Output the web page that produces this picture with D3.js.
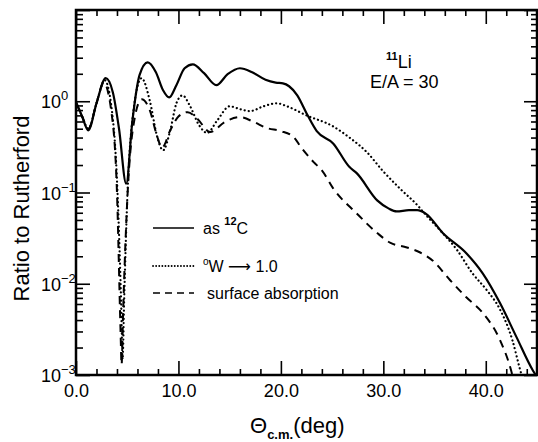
<!DOCTYPE html>
<html>
<head>
<meta charset="utf-8">
<script src="https://cdn.jsdelivr.net/npm/d3@7"></script>
<style>
  html, body { margin: 0; padding: 0; background: #fff; }
  svg { display: block; font-family: "Liberation Sans", Arial, sans-serif; }
</style>
</head>
<body>
<div id="chart"></div>
<script>
// --- DATA ---
const xTickValues = [0, 10, 20, 30, 40];
const xTickLabels = ['0.0', '10.0', '20.0', '30.0', '40.0'];
const yTickExps   = [-3, -2, -1, 0];

// as 12C (solid)
const solidTheta = [0, 0.6, 1.2, 2.0, 2.9, 3.6, 4.2, 4.9, 5.5, 6.2, 7.0, 7.8, 8.5, 9.1, 9.8, 10.6, 11.4,
  12.5, 13.7, 14.8, 16.0, 17.2, 18.5, 19.5, 20.2, 20.8, 21.6, 22.5, 23.5, 25.1, 26.7, 27.4, 29.4, 30.5,
  31.3, 32.5, 33.3, 34.2, 35.8, 38.1, 39.7, 41.4, 43.0, 44.6, 45.0];
const solidRatio = [0.98, 0.68, 0.48, 0.95, 1.79, 1.25, 0.5, 0.125, 0.6, 1.93, 2.67, 2.08, 1.32, 1.1, 1.5, 2.3, 2.54,
  2.03, 1.5, 1.98, 2.3, 2.08, 1.72, 1.6, 1.57, 1.46, 1.16, 0.74, 0.47, 0.345, 0.19, 0.163, 0.082, 0.067,
  0.062, 0.064, 0.064, 0.058, 0.036, 0.0216, 0.013, 0.0061, 0.0026, 0.00112, 0.00095];

// W -> 1.0 (dotted)
const dotTheta = [0, 0.6, 1.2, 2.0, 2.8, 3.5, 4.0, 4.4, 4.55, 4.7, 5.0, 5.5, 6.4, 7.2, 7.9, 8.5, 9.2, 9.8, 10.4,
  11.1, 12.0, 12.8, 13.8, 15.0, 16.0, 17.0, 18.3, 19.6, 20.6, 22.5, 25.1, 26.7, 28.4, 29.9, 31.6, 33.3,
  34.2, 35.5, 37.2, 38.7, 40.1, 41.4, 42.6, 43.3, 43.6];
const dotRatio = [0.98, 0.68, 0.5, 0.95, 1.7, 0.8, 0.137, 0.0066, 0.0015, 0.0066, 0.082, 0.62, 1.79, 1.02, 0.42, 0.29, 0.48, 0.95, 1.16,
  0.9, 0.55, 0.45, 0.62, 0.88, 0.82, 0.78, 0.88, 0.95, 0.88, 0.7, 0.53, 0.4, 0.276, 0.175, 0.111, 0.073,
  0.056, 0.039, 0.0234, 0.013, 0.0085, 0.0052, 0.0024, 0.0012, 0.0009];

// surface absorption (dashed)
const dashTheta = [0, 0.6, 1.2, 2.0, 2.7, 3.5, 4.0, 4.35, 4.45, 4.6, 5.0, 5.5, 6.4, 7.2, 7.9, 8.4, 9.2, 10.0, 10.9,
  11.8, 13.1, 14.5, 16.0, 17.4, 18.6, 20.0, 21.2, 22.0, 23.2, 24.0, 25.1, 27.4, 29.4, 30.7, 32.3, 33.6,
  34.8, 36.5, 38.1, 39.7, 41.4, 42.4, 42.7];
const dashRatio = [0.98, 0.68, 0.5, 0.95, 1.6, 0.7, 0.1, 0.003, 0.0013, 0.005, 0.08, 0.45, 1.05, 0.8, 0.42, 0.31, 0.48, 0.68, 0.76,
  0.65, 0.46, 0.59, 0.67, 0.59, 0.51, 0.47, 0.41, 0.31, 0.215, 0.175, 0.111, 0.059, 0.036, 0.028, 0.025, 0.022,
  0.018, 0.011, 0.0071, 0.0048, 0.0024, 0.0012, 0.0009];

const legendLabels = ['as', 'W', '1.0', 'surface absorption'];

// --- SETUP ---
const width = 538, height = 442;
const plot = { left: 76, right: 537, top: 10, bottom: 375 };

const svg = d3.select('#chart').append('svg')
  .attr('width', width)
  .attr('height', height);

const x = d3.scaleLinear().domain([0, 45]).range([plot.left, plot.right]);
const y = d3.scaleLog().domain([1e-3, 1e1]).range([plot.bottom, plot.top]);

const xMinor = d3.range(0, 46, 2).filter(d => d % 10 !== 0);
const yMajor = [1e-3, 1e-2, 1e-1, 1e0, 1e1];
const yMinor = [];
for (let e = -3; e < 1; e++) for (let k = 2; k <= 9; k++) yMinor.push(k * Math.pow(10, e));

// --- AXES (ticks point inward on all four sides) ---
function tickGroup(axis, tx, ty) {
  const g = svg.append('g').attr('transform', `translate(${tx},${ty})`).call(axis);
  g.select('.domain').remove();
  g.selectAll('line').attr('stroke', '#000').attr('stroke-width', 1.6);
  return g;
}

// bottom
const gxb = tickGroup(d3.axisBottom(x).tickValues(xTickValues).tickSize(-14).tickPadding(9)
  .tickFormat((d, i) => xTickLabels[i]), 0, plot.bottom);
gxb.selectAll('text').attr('font-size', 18).attr('fill', '#000')
  .attr('font-family', '"Liberation Sans", Arial, sans-serif');
tickGroup(d3.axisBottom(x).tickValues(xMinor).tickSize(-6).tickFormat(''), 0, plot.bottom);
// top
tickGroup(d3.axisTop(x).tickValues(xTickValues).tickSize(-14).tickFormat(''), 0, plot.top);
tickGroup(d3.axisTop(x).tickValues(xMinor).tickSize(-6).tickFormat(''), 0, plot.top);
// left
tickGroup(d3.axisLeft(y).tickValues(yMajor).tickSize(-14).tickFormat(''), plot.left, 0);
tickGroup(d3.axisLeft(y).tickValues(yMinor).tickSize(-7).tickFormat(''), plot.left, 0);
// right
tickGroup(d3.axisRight(y).tickValues(yMajor).tickSize(-13).tickFormat(''), plot.right, 0);
tickGroup(d3.axisRight(y).tickValues(yMinor).tickSize(-6).tickFormat(''), plot.right, 0);

// frame
svg.append('rect')
  .attr('x', plot.left).attr('y', plot.top)
  .attr('width', plot.right - plot.left).attr('height', plot.bottom - plot.top)
  .attr('fill', 'none').attr('stroke', '#000').attr('stroke-width', 2.5);

// y tick labels 10^n
const yl = svg.selectAll('text.ylab').data(yTickExps).enter().append('text')
  .attr('class', 'ylab')
  .attr('x', 41)
  .attr('y', d => y(Math.pow(10, d)) + 7)
  .attr('font-size', 18);
yl.append('tspan').text('10');
yl.append('tspan').attr('dy', -8).attr('font-size', 13).text(d => d === 0 ? '0' : '\u2212' + (-d));

// axis titles
svg.append('text')
  .attr('transform', `translate(29,${(plot.top + plot.bottom) / 2 + 16}) rotate(-90)`)
  .attr('text-anchor', 'middle')
  .attr('font-size', 22)
  .text('Ratio to Rutherford');

const xt = svg.append('text')
  .attr('x', 250).attr('y', 433)
  .attr('font-size', 22);
xt.append('tspan').text('\u0398');
xt.append('tspan').attr('dy', 6).attr('font-size', 13).attr('font-weight', 'bold').text('c.m.');
xt.append('tspan').attr('dy', -6).text('(deg)');

// annotation
const ann = svg.append('text').attr('x', 386).attr('y', 68).attr('font-size', 18);
ann.append('tspan').attr('dy', -8).attr('font-size', 11).attr('font-weight', 'bold').text('11');
ann.append('tspan').attr('dy', 8).text('Li');
svg.append('text').attr('x', 370).attr('y', 88).attr('font-size', 18).text('E/A = 30');

// --- CURVES ---
svg.append('clipPath').attr('id', 'clip').append('rect')
  .attr('x', plot.left).attr('y', plot.top)
  .attr('width', plot.right - plot.left).attr('height', plot.bottom - plot.top);

const line = d3.line()
  .x(d => x(d[0]))
  .y(d => y(d[1]))
  .curve(d3.curveMonotoneX);

const series = [
  { theta: solidTheta, ratio: solidRatio, dash: null,  width: 2.2, cap: 'butt' },
  { theta: dotTheta,   ratio: dotRatio,   dash: '0.1 4', width: 2.2, cap: 'round' },
  { theta: dashTheta,  ratio: dashRatio,  dash: '8 6', width: 2.0, cap: 'butt' }
];

const gCurves = svg.append('g').attr('clip-path', 'url(#clip)');
series.forEach(s => {
  gCurves.append('path')
    .datum(s.theta.map((t, i) => [t, s.ratio[i]]))
    .attr('d', line)
    .attr('fill', 'none')
    .attr('stroke', '#000')
    .attr('stroke-width', s.width)
    .attr('stroke-linecap', s.cap)
    .attr('stroke-dasharray', s.dash);
});

// --- LEGEND ---
const legendY = [228, 266, 293];
const legend = svg.append('g');
series.forEach((s, i) => {
  legend.append('line')
    .attr('x1', 153).attr('x2', 194)
    .attr('y1', legendY[i]).attr('y2', legendY[i])
    .attr('stroke', '#000')
    .attr('stroke-width', i === 1 ? 1.8 : 1.6)
    .attr('stroke-linecap', s.cap)
    .attr('stroke-dasharray', i === 1 ? '0.1 3' : (i === 2 ? '7 5' : null));
});
const t1 = legend.append('text').attr('x', 203).attr('y', legendY[0] + 6).attr('font-size', 16);
t1.append('tspan').text(legendLabels[0] + ' ');
t1.append('tspan').attr('dy', -9).attr('font-size', 11).attr('font-weight', 'bold').text('12');
t1.append('tspan').attr('dy', 9).text('C');
const t2 = legend.append('text').attr('x', 203).attr('y', legendY[1] + 6).attr('font-size', 16);
t2.append('tspan').attr('dy', -7).attr('font-size', 10).text('o');
t2.append('tspan').attr('dy', 7).text(legendLabels[1] + ' ');
t2.append('tspan').attr('font-family', '"DejaVu Sans", sans-serif').text('\u27F6');
t2.append('tspan').text(' ' + legendLabels[2]);
legend.append('text').attr('x', 207).attr('y', legendY[2] + 6).attr('font-size', 16).text(legendLabels[3]);
</script>
</body>
</html>
